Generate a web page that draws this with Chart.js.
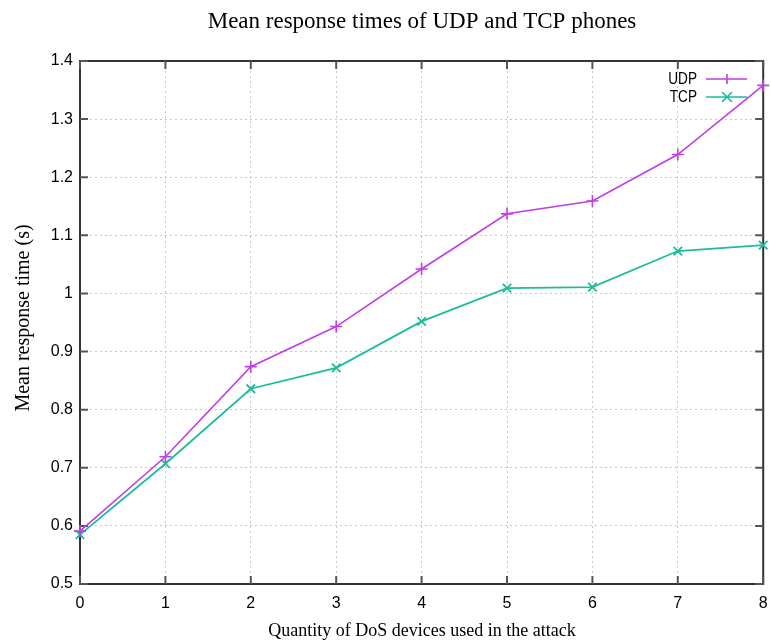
<!DOCTYPE html>
<html>
<head>
<meta charset="utf-8">
<title>Mean response times of UDP and TCP phones</title>
<script src="https://cdn.jsdelivr.net/npm/chart.js@4/dist/chart.umd.min.js"></script>
<style>
    body { margin: 0; background: #fff; }
    canvas { display: block; }
</style>
</head>
<body>
<canvas id="responseChart" width="771" height="644"></canvas>
<script>
// data
const devices = [0, 1, 2, 3, 4, 5, 6, 7, 8];
const udpTimes = [0.591, 0.719, 0.874, 0.943, 1.042, 1.137, 1.159, 1.239, 1.358];
const tcpTimes = [0.585, 0.707, 0.836, 0.872, 0.952, 1.009, 1.011, 1.073, 1.083];
const yTicks = [0.5, 0.6, 0.7, 0.8, 0.9, 1.0, 1.1, 1.2, 1.3, 1.4];

const UDP_COLOR = '#c03ee6';
const TCP_COLOR = '#1cbc9c';
const SANS = "'Liberation Sans Narrow', 'Liberation Sans', Arial, sans-serif";
const SERIF = "'Liberation Serif', 'Times New Roman', serif";

function toPoints(values) {
    return devices.map((d, i) => ({ x: d, y: values[i] }));
}

// gnuplot style frame: box border, inward ticks, titles and key
const gnuplotFrame = {
    id: 'gnuplotFrame',
    beforeDatasetsDraw(chart) {
        const { ctx, chartArea: a, scales } = chart;
        ctx.save();
        ctx.strokeStyle = '#333';
        ctx.lineWidth = 2;
        ctx.strokeRect(a.left, a.top, a.right - a.left, a.bottom - a.top);
        ctx.strokeStyle = '#555';
        ctx.beginPath();
        devices.forEach(d => {
            const x = scales.x.getPixelForValue(d);
            ctx.moveTo(x, a.bottom); ctx.lineTo(x, a.bottom - 8);
            ctx.moveTo(x, a.top); ctx.lineTo(x, a.top + 8);
        });
        yTicks.forEach(v => {
            const y = scales.y.getPixelForValue(v);
            ctx.moveTo(a.left, y); ctx.lineTo(a.left + 8, y);
            ctx.moveTo(a.right, y); ctx.lineTo(a.right - 8, y);
        });
        ctx.stroke();
        ctx.restore();
    },
    afterDraw(chart) {
        const { ctx } = chart;
        ctx.save();
        ctx.fillStyle = '#000';
        ctx.textAlign = 'center';
        ctx.textBaseline = 'middle';
        ctx.font = '23px ' + SERIF;
        ctx.fillText('Mean response times of UDP and TCP phones', 422, 22);
        ctx.font = '18px ' + SERIF;
        ctx.fillText('Quantity of DoS devices used in the attack', 422, 631);
        ctx.font = '20px ' + SERIF;
        ctx.translate(24, 318);
        ctx.rotate(-Math.PI / 2);
        ctx.fillText('Mean response time (s)', 0, 0);
        ctx.restore();

        // key, top right inside the plot
        chart.data.datasets.forEach((ds, i) => {
            const y = 79 + i * 18;
            ctx.save();
            ctx.font = '17px ' + SANS;
            ctx.textAlign = 'right';
            ctx.textBaseline = 'middle';
            ctx.fillStyle = '#000';
            ctx.translate(697, y);
            ctx.scale(0.8, 1);
            ctx.fillText(ds.label, 0, 0);
            ctx.restore();

            ctx.save();
            ctx.strokeStyle = ds.borderColor;
            ctx.lineWidth = 1.6;
            ctx.beginPath();
            ctx.moveTo(706, y); ctx.lineTo(747, y);
            const r = 5;
            if (ds.pointStyle === 'cross') {
                ctx.moveTo(727, y - r); ctx.lineTo(727, y + r);
            } else {
                ctx.moveTo(727 - r, y - r); ctx.lineTo(727 + r, y + r);
                ctx.moveTo(727 - r, y + r); ctx.lineTo(727 + r, y - r);
            }
            ctx.stroke();
            ctx.restore();
        });
    }
};

const ctx = document.getElementById('responseChart').getContext('2d');
new Chart(ctx, {
    type: 'line',
    data: {
        datasets: [{
            label: 'UDP',
            data: toPoints(udpTimes),
            borderColor: UDP_COLOR,
            backgroundColor: UDP_COLOR,
            borderWidth: 1.6,
            pointStyle: 'cross',
            pointRadius: 6,
            pointBorderWidth: 1.6,
            tension: 0,
            clip: false
        }, {
            label: 'TCP',
            data: toPoints(tcpTimes),
            borderColor: TCP_COLOR,
            backgroundColor: TCP_COLOR,
            borderWidth: 1.8,
            pointStyle: 'crossRot',
            pointRadius: 6,
            pointBorderWidth: 1.8,
            tension: 0,
            clip: false
        }]
    },
    options: {
        responsive: false,
        animation: false,
        devicePixelRatio: 1,
        layout: { padding: { top: 61, right: 7, bottom: 0, left: 0 } },
        plugins: {
            legend: { display: false },
            title: { display: false },
            tooltip: { enabled: false }
        },
        scales: {
            x: {
                type: 'linear',
                min: 0,
                max: 8,
                afterFit: scale => {
                    scale.height = 60;
                    scale.paddingLeft = 0;
                    scale.paddingRight = 0;
                },
                afterBuildTicks: scale => { scale.ticks = devices.map(v => ({ value: v })); },
                grid: { color: '#c8c8c8', drawTicks: false },
                border: { display: false, dash: [2, 3] },
                ticks: {
                    padding: 10,
                    color: '#000',
                    font: { family: SANS, size: 16 },
                    callback: v => String(v)
                }
            },
            y: {
                type: 'linear',
                min: 0.5,
                max: 1.4,
                afterFit: scale => {
                    scale.width = 80;
                    scale.paddingTop = 0;
                    scale.paddingBottom = 0;
                },
                afterBuildTicks: scale => { scale.ticks = yTicks.map(v => ({ value: v })); },
                grid: { color: '#c8c8c8', drawTicks: false },
                border: { display: false, dash: [2, 3] },
                ticks: {
                    padding: 7,
                    color: '#000',
                    font: { family: SANS, size: 16 },
                    callback: v => String(+Number(v).toFixed(1))
                }
            }
        }
    },
    plugins: [gnuplotFrame]
});
</script>
</body>
</html>
